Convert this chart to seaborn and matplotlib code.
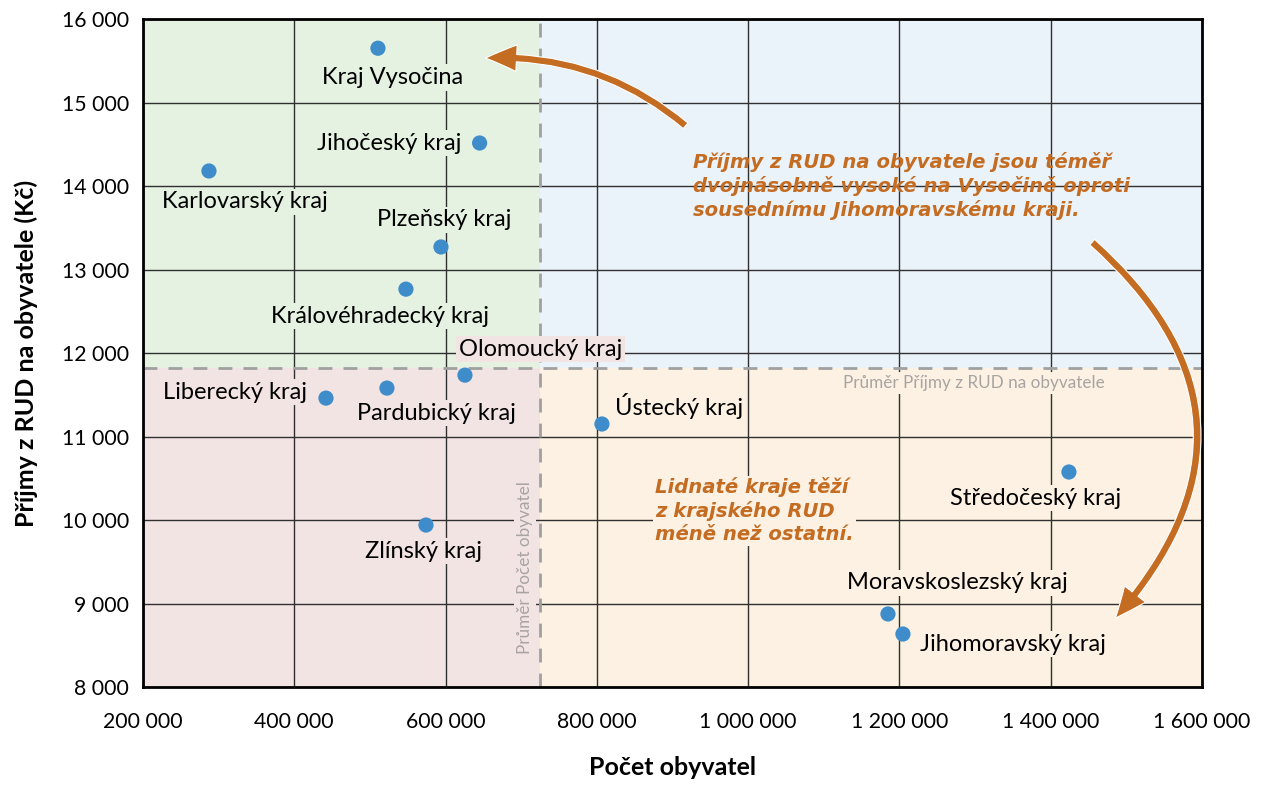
import pandas as pd
import seaborn as sns
import matplotlib.pyplot as plt
from matplotlib.ticker import FuncFormatter

# hodnoty
kraje = ['Kraj Vysočina', 'Jihočeský kraj', 'Karlovarský kraj', 'Plzeňský kraj',
         'Královéhradecký kraj', 'Olomoucký kraj', 'Liberecký kraj', 'Pardubický kraj',
         'Ústecký kraj', 'Zlínský kraj', 'Středočeský kraj', 'Moravskoslezský kraj',
         'Jihomoravský kraj']
pocet = [510600, 645000, 287200, 593900, 547600, 625600, 441900, 522500,
         806700, 574100, 1424000, 1184800, 1204600]
prijmy = [15650, 14515, 14180, 13270, 12765, 11735, 11460, 11580,
          11150, 9940, 10575, 8875, 8635]
prumer_pocet = 725000
prumer_prijmy = 11820

df = pd.DataFrame({'kraj': kraje, 'pocet': pocet, 'prijmy': prijmy})

sns.set_style('white')
plt.rcParams['font.family'] = ['Lato', 'DejaVu Sans']

fig = plt.figure(figsize=(12.62, 7.85), dpi=100)
ax = fig.add_axes([0.1133, 0.1248, 0.8392, 0.851])
ax.set_xlim(200000, 1600000)
ax.set_ylim(8000, 16000)

# barevné kvadranty
c_green, c_blue, c_pink, c_orange = '#E5F2E2', '#EBF3FA', '#F3E4E4', '#FDF1E3'
h = (prumer_prijmy - 8000) / 8000
ax.axvspan(200000, prumer_pocet, ymin=h, ymax=1, color=c_green, zorder=0, lw=0)
ax.axvspan(prumer_pocet, 1600000, ymin=h, ymax=1, color=c_blue, zorder=0, lw=0)
ax.axvspan(200000, prumer_pocet, ymin=0, ymax=h, color=c_pink, zorder=0, lw=0)
ax.axvspan(prumer_pocet, 1600000, ymin=0, ymax=h, color=c_orange, zorder=0, lw=0)

ax.set_xticks(range(200000, 1600001, 200000))
ax.set_yticks(range(8000, 16001, 1000))
ax.grid(True, color='#303030', lw=1)
ax.set_axisbelow(True)
for s in ax.spines.values():
    s.set_color('black')
    s.set_linewidth(2)

ax.axvline(prumer_pocet, color='#A0A0A0', lw=2, ls=(0, (5, 4)), zorder=2)
ax.axhline(prumer_prijmy, color='#A0A0A0', lw=2, ls=(0, (5, 4)), zorder=2)

sns.scatterplot(data=df, x='pocet', y='prijmy', ax=ax, color='#3F8CCB', s=120,
                edgecolor='none', zorder=5)

fmt = FuncFormatter(lambda v, p: f'{int(v):,}'.replace(',', ' '))
ax.xaxis.set_major_formatter(fmt)
ax.yaxis.set_major_formatter(fmt)
ax.tick_params(labelsize=15.3, length=0, labelcolor='black')
ax.tick_params(axis='x', pad=18)
ax.tick_params(axis='y', pad=10)
ax.set_xlabel('Počet obyvatel', fontsize=18, fontweight='bold', labelpad=17, color='black')
ax.set_ylabel('Příjmy z RUD na obyvatele (Kč)', fontsize=18, fontweight='bold', labelpad=17, color='black')

# popisky bodů (posun v pixelech, zarovnání)
popisky = {
    'Kraj Vysočina': (15, -29, 'center'),
    'Jihočeský kraj': (-18, 0, 'right'),
    'Karlovarský kraj': (-47, -31, 'left'),
    'Plzeňský kraj': (3, 27, 'center'),
    'Královéhradecký kraj': (-26, -27, 'center'),
    'Olomoucký kraj': (76, 26, 'center'),
    'Liberecký kraj': (-19, 6, 'right'),
    'Pardubický kraj': (49, -25, 'center'),
    'Ústecký kraj': (13, 18, 'left'),
    'Zlínský kraj': (-2, -26, 'center'),
    'Středočeský kraj': (-33, -26, 'center'),
    'Moravskoslezský kraj': (69, 31, 'center'),
    'Jihomoravský kraj': (17, -10, 'left'),
}
for k, x, y in zip(kraje, pocet, prijmy):
    dx, dy, ha = popisky[k]
    if x < prumer_pocet:
        bg = c_green if y > prumer_prijmy else c_pink
    else:
        bg = c_blue if y > prumer_prijmy else c_orange
    ax.annotate(k, (x, y), xytext=(dx, dy), textcoords='offset pixels', ha=ha, va='center',
                fontsize=17, color='black', zorder=4,
                bbox=dict(boxstyle='square,pad=0.12', fc=bg, ec='none'))

ax.text(1471000, prumer_prijmy - 180, 'Průměr Příjmy z RUD na obyvatele', ha='right', va='center',
        fontsize=12.3, color='#A8A4A2', zorder=3, bbox=dict(boxstyle='square,pad=0.2', fc=c_orange, ec='none'))
ax.text(prumer_pocet - 20000, 9425, 'Průměr Počet obyvatel', ha='center', va='center', rotation=90,
        fontsize=12.3, color='#A8A4A2', zorder=3, bbox=dict(boxstyle='square,pad=0.2', fc=c_pink, ec='none'))

# komentáře a šipky
oranzova = '#C46C22'
ax.text(927000, 14000, 'Příjmy z RUD na obyvatele jsou téměř\ndvojnásobně vysoké na Vysočině oproti\nsousednímu Jihomoravskému kraji.',
        ha='left', va='center', fontsize=14.1, color=oranzova, fontweight='bold', fontstyle='italic',
        linespacing=1.25, family=['DejaVu Sans'], zorder=6)
ax.text(877000, 10110, 'Lidnaté kraje těží\nz krajského RUD\nméně než ostatní.',
        ha='left', va='center', fontsize=14.1, color=oranzova, fontweight='bold', fontstyle='italic',
        linespacing=1.25, family=['DejaVu Sans'], zorder=6,
        bbox=dict(boxstyle='square,pad=0.1', fc=c_orange, ec='none'))

ax.annotate('', xy=(649000, 15530), xytext=(920000, 14700),
            arrowprops=dict(arrowstyle='simple,head_length=1.4,head_width=1.2,tail_width=0.33',
                            connectionstyle='arc3,rad=0.2', fc=oranzova, ec='white', lw=0.8,
                            mutation_scale=16), zorder=6)
ax.annotate('', xy=(1483000, 8800), xytext=(1452000, 13350),
            arrowprops=dict(arrowstyle='simple,head_length=1.4,head_width=1.2,tail_width=0.33',
                            connectionstyle='arc3,rad=-0.5', fc=oranzova, ec='white', lw=0.8,
                            mutation_scale=16), zorder=6)

fig.savefig('out.png', dpi=100)
